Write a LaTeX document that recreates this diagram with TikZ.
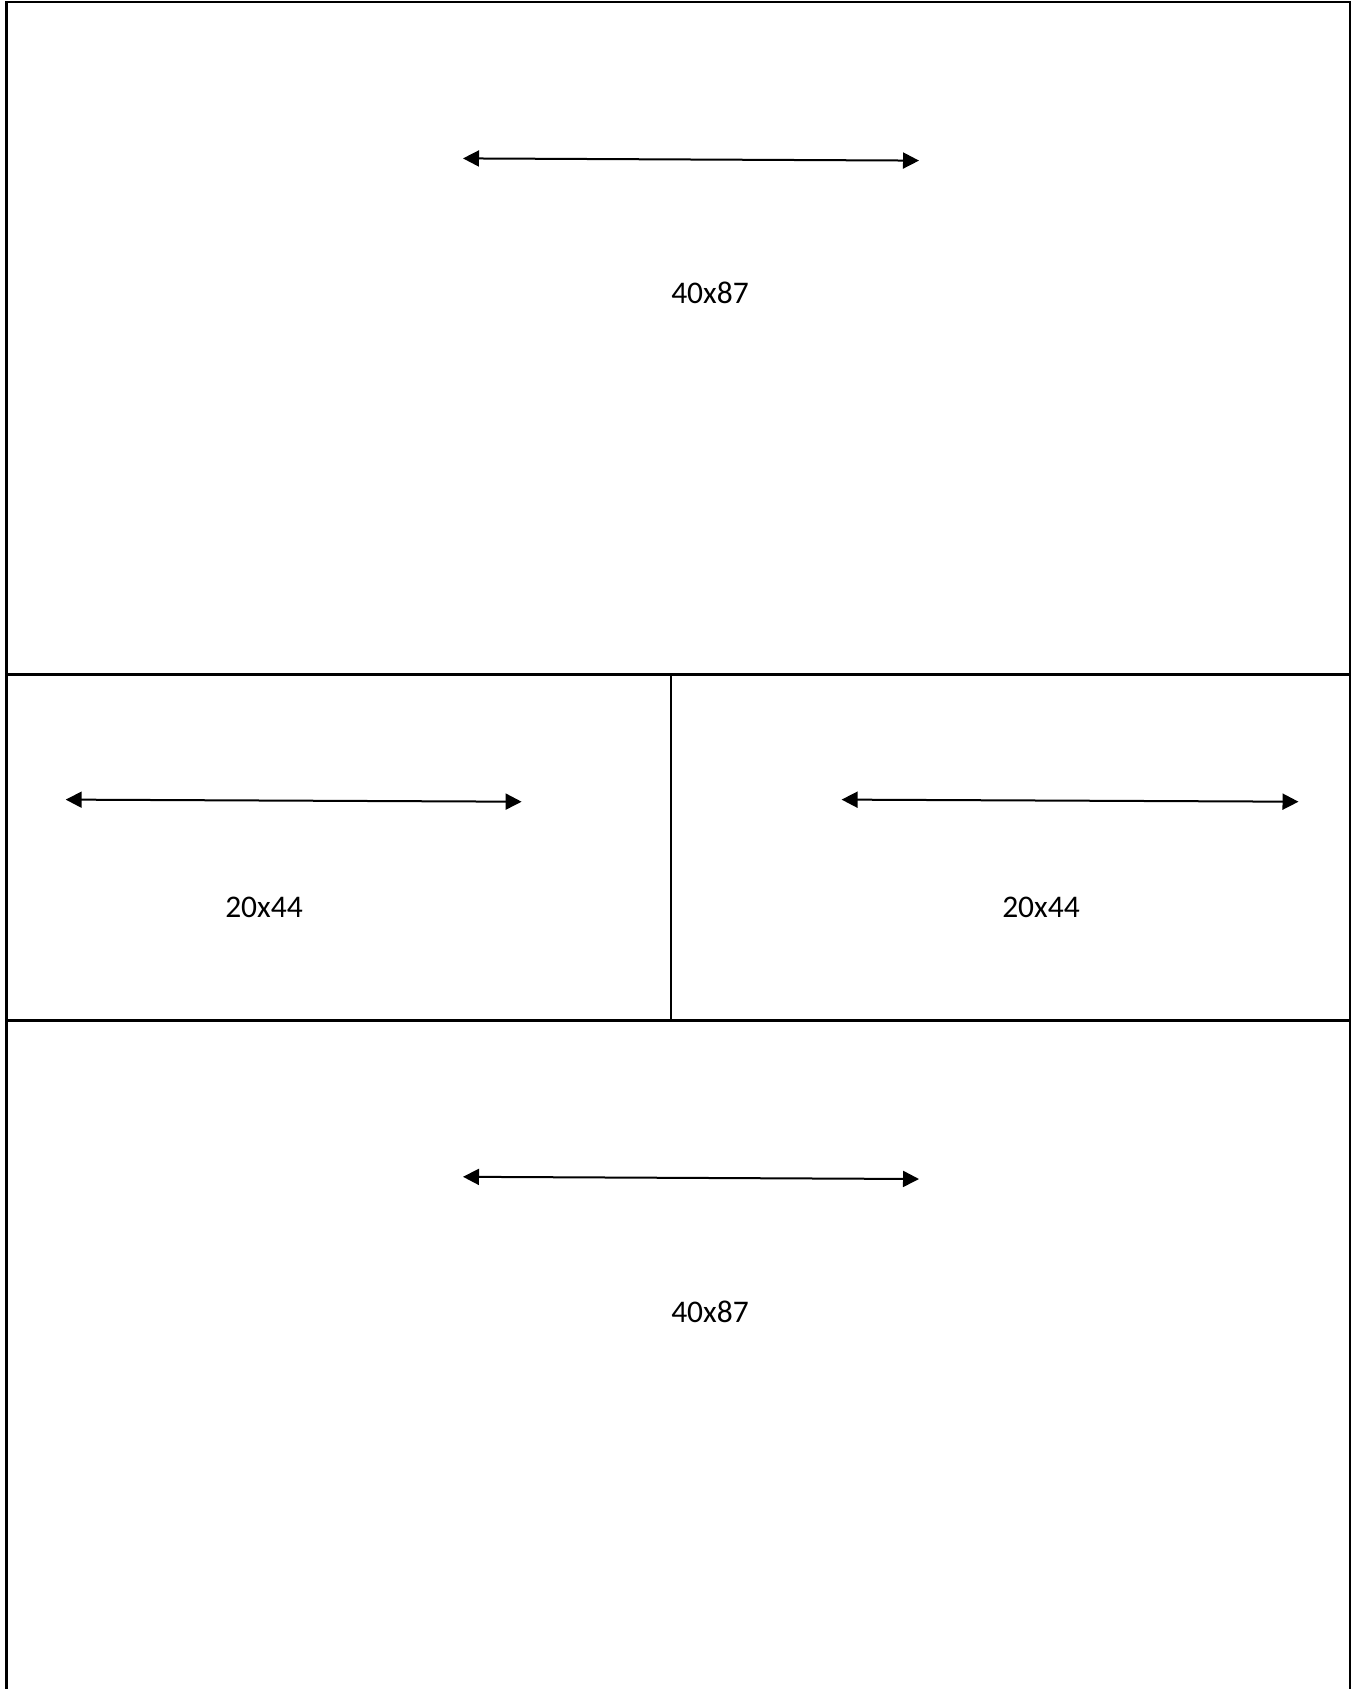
\documentclass[tikz,border=0pt]{standalone}
\usepackage{fontspec}
\setmainfont{Carlito}
\usetikzlibrary{arrows.meta}
\begin{document}
\begin{tikzpicture}[x=1pt,y=-1pt,
  frame/.style={line width=2.2pt, black},
  dimarrow/.style={line width=2pt, {Triangle[length=16pt,width=16pt]}-{Triangle[length=16pt,width=16pt]}},
  dimlabel/.style={font=\fontsize{31.5}{37}\selectfont, inner sep=0pt}]
\useasboundingbox (0,0) rectangle (1361,1689);
% frame
\coordinate (tl) at (6.5,2);
\coordinate (tr) at (1350,2);
\coordinate (bl) at (6.5,1689);
\coordinate (br) at (1350,1689);
\coordinate (m1l) at (6.5,674.5);
\coordinate (m1r) at (1350,674.5);
\coordinate (m2l) at (6.5,1020.5);
\coordinate (m2r) at (1350,1020.5);
\coordinate (dvt) at (671,674.5);
\coordinate (dvb) at (671,1020.5);
\draw[frame] (bl) -- (tl) -- (tr) -- (br);
\draw[frame] (m1l) -- (m1r);
\draw[frame] (m2l) -- (m2r);
\draw[frame] (dvt) -- (dvb);
% arrows
\coordinate (a1s) at (463,158.4);
\coordinate (a1e) at (919,160.6);
\coordinate (a2s) at (65.7,799.6);
\coordinate (a2e) at (521.6,801.7);
\coordinate (a3s) at (841.6,799.6);
\coordinate (a3e) at (1298.5,801.7);
\coordinate (a4s) at (463,1176.8);
\coordinate (a4e) at (919,1179);
\draw[dimarrow] (a1s) -- (a1e);
\draw[dimarrow] (a2s) -- (a2e);
\draw[dimarrow] (a3s) -- (a3e);
\draw[dimarrow] (a4s) -- (a4e);
% labels
\node[dimlabel] (t1) at (710,293) {40x87};
\node[dimlabel] (t2) at (264,907) {20x44};
\node[dimlabel] (t3) at (1041,907) {20x44};
\node[dimlabel] (t4) at (710,1311.5) {40x87};
\end{tikzpicture}
\end{document}
